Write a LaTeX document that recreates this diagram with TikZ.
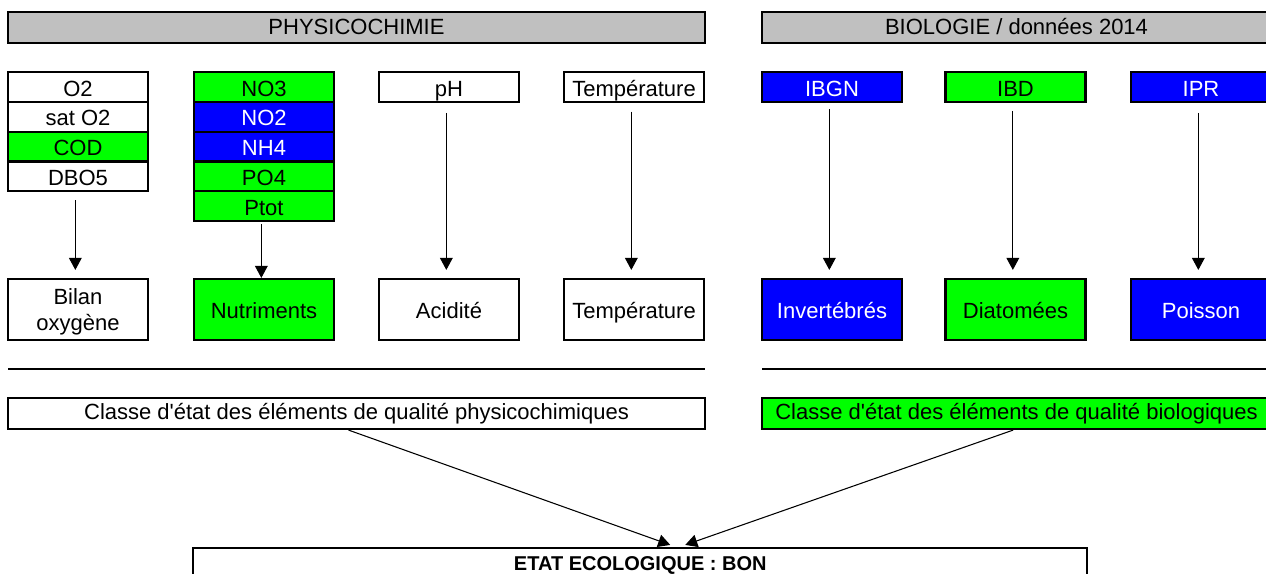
\documentclass[tikz,border=0pt]{standalone}
\usepackage{fontspec}
\setmainfont{Liberation Sans}[Ligatures=TeXOff]
\usetikzlibrary{arrows.meta,calc,positioning}
\definecolor{etatgreen}{RGB}{0,255,0}
\definecolor{etatblue}{RGB}{0,0,255}
\definecolor{headgray}{RGB}{192,192,192}
\tikzset{
  quality cell/.style={draw=black,fill=white,line width=1.6pt,minimum width=105pt,
    minimum height=22.35pt,inner sep=0pt,text height=13.7pt,text depth=0pt,
    font=\fontsize{16.5}{19.5}\selectfont},
  good cell/.style={quality cell,fill=etatgreen},
  high cell/.style={quality cell,fill=etatblue,text=white},
  element box/.style={quality cell,minimum height=45.75pt,align=center},
  band box/.style={quality cell,minimum height=23.25pt,text height=11pt,text depth=0.5pt},
  class box/.style={band box,text height=11pt,text depth=2pt},
  quality arrow/.style={-{Triangle[length=9pt,width=9.5pt]},line width=0.8pt},
  band line/.style={line width=1.6pt}
}

\begin{document}
\begin{tikzpicture}[x=0.75pt,y=-0.75pt]
    \useasboundingbox (0,0) rectangle (1266,574);
    \clip (0,0) rectangle (1266,574);
    % headers
    \node[band box,fill=headgray,minimum width=522.75pt] (phyhead) at (356.5,27.5) {PHYSICOCHIMIE};
    \node[band box,fill=headgray,minimum width=381.75pt] (biohead) at (1016.5,27.5) {BIOLOGIE / données 2014};
    % parameters
    \node[quality cell] (o2) at (78,87) {O2};
    \node[quality cell] (sato2) at (78,116.8) {sat O2};
    \node[good cell] (cod) at (78,146.6) {COD};
    \node[quality cell] (dbo) at (78,176.4) {DBO5};
    \node[good cell] (no3) at (264,87) {NO3};
    \node[high cell] (no2) at (264,116.8) {NO2};
    \node[high cell] (nh4) at (264,146.6) {NH4};
    \node[good cell] (po4) at (264,176.4) {PO4};
    \node[good cell] (ptot) at (264,206.2) {Ptot};
    \node[quality cell] (ph) at (449,87) {pH};
    \node[quality cell] (tempin) at (634,87) {Température};
    \node[high cell] (ibgn) at (832,87) {IBGN};
    \node[good cell] (ibd) at (1015.5,87) {IBD};
    \node[high cell] (ipr) at (1201,87) {IPR};
    % elements
    \node[element box,text height=,text depth=] (bilan) at (78,309.5)
      {\rule{0pt}{15pt}Bilan\\oxygène};
    \node[element box,fill=etatgreen] (nutri) at (264,309.5) {Nutriments};
    \node[element box] (acid) at (449,309.5) {Acidité};
    \node[element box] (tempout) at (634,309.5) {Température};
    \node[element box,fill=etatblue,text=white] (invert) at (832,309.5) {Invertébrés};
    \node[element box,fill=etatgreen] (diato) at (1015.5,309.5) {Diatomées};
    \node[element box,fill=etatblue,text=white] (poisson) at (1201,309.5) {Poisson};
    \foreach \from/\to/\gapa/\gapb in {
      dbo/bilan/6pt/6pt,ptot/nutri/1.5pt/0pt,ph/acid/7.5pt/6pt,
      tempin/tempout/6.5pt/6pt,ibgn/invert/4.5pt/6pt,
      ibd/diato/6pt/6pt,ipr/poisson/7.5pt/6pt}
      \draw[quality arrow,shorten <=\gapa,shorten >=\gapb]
        ([xshift=-2pt]\from.south) -- ([xshift=-2pt]\to.north);
    \draw[band line] (8,369) -- (705,369);
    \draw[band line] (762,369) -- (1271,369);
    % classes
    \node[class box,minimum width=522.75pt] (phyclass) at (356.5,413.5)
      {Classe d'état des éléments de qualité physicochimiques};
    \node[class box,fill=etatgreen,minimum width=381.75pt] (bioclass) at (1016.5,413.5)
      {Classe d'état des éléments de qualité biologiques};
    \node[class box,minimum width=670.5pt,text depth=0.5pt,font=\fontsize{15}{17}\bfseries] (ecolo) at (640.25,563.5)
      {ETAT ECOLOGIQUE : BON};
    \coordinate (tipphy) at ($(ecolo.north)+(30,-2)$);
    \coordinate (tipbio) at ($(ecolo.north)+(45,-2)$);
    \draw[quality arrow] ([xshift=-6pt]phyclass.south) -- (tipphy);
    \draw[quality arrow] ([xshift=-2.5pt]bioclass.south) -- (tipbio);
  \end{tikzpicture}
\end{document}
